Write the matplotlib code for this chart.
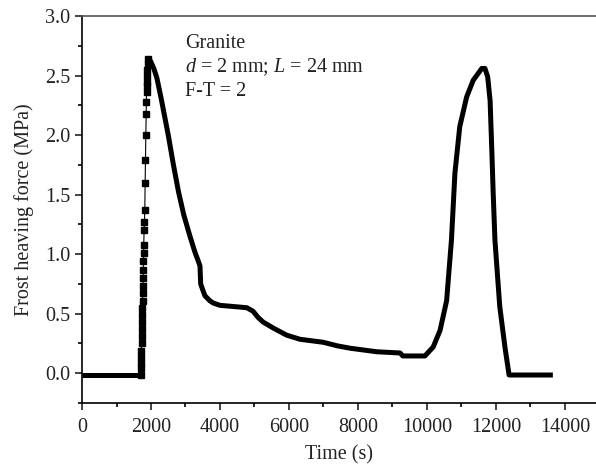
import matplotlib
matplotlib.use("Agg")
import numpy as np
import matplotlib.pyplot as plt
from matplotlib.ticker import MultipleLocator

plt.rcParams["font.family"] = ["Liberation Serif", "DejaVu Serif"]
plt.rcParams["mathtext.fontset"] = "custom"
plt.rcParams["mathtext.rm"] = "Liberation Serif"
plt.rcParams["mathtext.it"] = "Liberation Serif:italic"

# values
time_s = [0, 1000, 1700,
          1705, 1710, 1715, 1720, 1725, 1730, 1735, 1740, 1745, 1750, 1755,
          1760, 1765, 1770, 1775, 1780, 1785, 1790, 1800, 1810, 1820,
          1830, 1840, 1850, 1860, 1865, 1870, 1875, 1880, 1885, 1890, 1900,
          1915,
          1990, 2080, 2170, 2300, 2400, 2500, 2650, 2800, 2950, 3130, 3270,
          3360, 3420, 3440, 3500, 3565, 3700, 3800, 4000, 4400, 4780, 4960,
          5100, 5250, 5540, 5930, 6320, 6990, 7400, 7770, 8550, 9220, 9300,
          9940, 10180, 10380, 10570, 10710, 10810, 10950, 11150, 11340,
          11590, 11680, 11760, 11830, 11880, 11920, 11970, 12110, 12260,
          12380, 13000, 13650]
force_mpa = [-0.015, -0.015, -0.015,
             0.04, 0.09, 0.14, 0.19, 0.25, 0.31, 0.37, 0.43, 0.49, 0.55, 0.61,
             0.67, 0.73, 0.80, 0.87, 0.94, 1.01, 1.08, 1.20, 1.27, 1.37,
             1.60, 1.79, 2.00, 2.18, 2.28, 2.36, 2.41, 2.45, 2.50, 2.55, 2.60,
             2.64,
             2.62, 2.56, 2.48, 2.30, 2.15, 2.00, 1.75, 1.52, 1.33, 1.15, 1.02,
             0.95, 0.90, 0.75, 0.70, 0.65, 0.61, 0.59, 0.57, 0.56, 0.55, 0.52,
             0.47, 0.43, 0.38, 0.32, 0.285, 0.26, 0.23, 0.21, 0.18, 0.17, 0.145,
             0.145, 0.22, 0.36, 0.61, 1.12, 1.68, 2.07, 2.32, 2.46,
             2.56, 2.56, 2.49, 2.29, 1.87, 1.51, 1.12, 0.56, 0.22,
             -0.015, -0.015, -0.015]

t = np.array(time_s)
f = np.array(force_mpa)
rise = (t >= 1700) & (t <= 1915)
i0 = np.argmax(rise)
i1 = len(t) - np.argmax(rise[::-1]) - 1

fig = plt.figure(figsize=(5.96, 4.71), dpi=100)
ax = fig.add_axes([0.1376, 0.1444, 0.8624, 0.8216])

ax.plot(t[:i0 + 1], f[:i0 + 1], color="black", lw=3.6, solid_capstyle="butt")
ax.plot(t[i1:], f[i1:], color="black", lw=3.6, solid_joinstyle="round",
        solid_capstyle="butt")
ax.plot(t[rise], f[rise], color="black", lw=0.8, marker="s", markersize=4)

ax.set_xlim(0, 14900)
ax.set_ylim(-0.25, 3.0)
ax.xaxis.set_major_locator(MultipleLocator(2000))
ax.xaxis.set_minor_locator(MultipleLocator(1000))
ax.yaxis.set_major_locator(MultipleLocator(0.5))
ax.yaxis.set_minor_locator(MultipleLocator(0.25))
ax.yaxis.set_major_formatter(plt.FormatStrFormatter("%.1f"))

ax.spines["right"].set_visible(False)
for s in ["left", "bottom", "top"]:
    ax.spines[s].set_linewidth(1.2)
ax.spines["top"].set_color("#555555")
ax.tick_params(which="major", direction="out", length=5, width=1.2,
               labelsize=14.5, colors="#222222")
ax.tick_params(axis="x", which="major", pad=6)
ax.tick_params(which="minor", direction="out", length=3, width=1.2)

ax.set_xlabel("Time (s)", fontsize=14.5, color="#222222", labelpad=6)
ax.set_ylabel("Frost heaving force (MPa)", fontsize=14.5, color="#222222",
              labelpad=8)

ax.text(2985, 2.57, "Granite\n$d$ = 2 mm; $L$ = 24 mm\nF-T = 2",
        fontsize=14.5, color="#222222", va="center", ha="left",
        linespacing=1.25)

fig.savefig("out.png", dpi=100)
